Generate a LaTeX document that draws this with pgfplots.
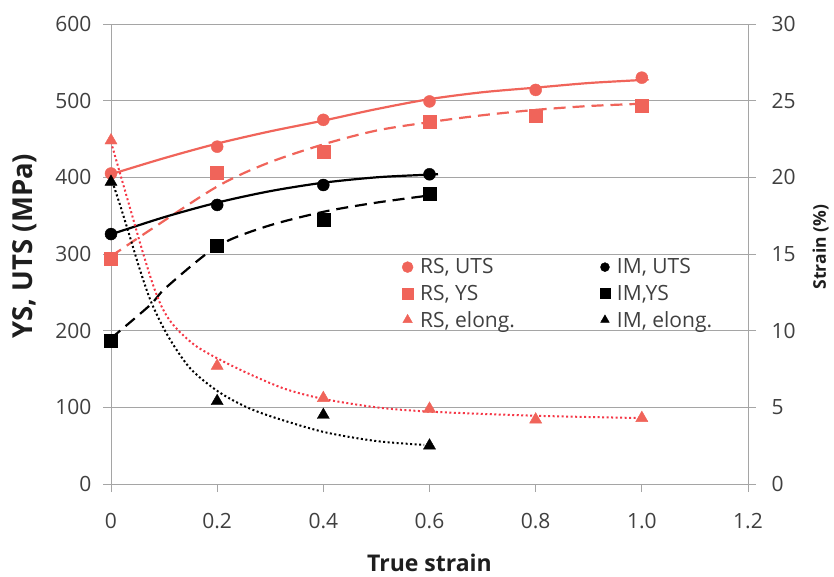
\documentclass[border=0pt]{standalone}
\usepackage{pgfplots}
\pgfplotsset{compat=1.18}
\usepackage{fontspec}
\setmainfont{Open Sans}
\definecolor{rsred}{RGB}{240,100,90}
\definecolor{rsdot}{RGB}{245,55,70}
\definecolor{gridc}{RGB}{165,165,165}
\definecolor{tickc}{RGB}{64,64,64}
\definecolor{labc}{RGB}{30,30,30}
\pgfplotsset{
  common/.style={
    at={(0,0)}, anchor=south west,
    scale only axis, width=637bp, height=460bp,
    xmin=0, xmax=1.2,
    axis line style={gridc, line width=0.8pt},
    tick style={gridc, line width=0.8pt},
    major tick length=8bp,
    tick align=outside,
    /pgf/number format/assume math mode=true,
    ticklabel style={font=\fontsize{21bp}{25bp}\selectfont, text=tickc},
    label style={font=\bfseries\fontsize{27.5bp}{30bp}\selectfont, text=labc},
  },
  trend/.style={line width=2.2bp, no markers, smooth},
}
\begin{document}
\begin{tikzpicture}
\useasboundingbox (-111bp,-93bp) rectangle (723bp,484bp);
\begin{axis}[common,
  ymin=0, ymax=600,
  axis x line*=bottom, axis y line*=left,
  xtick={0,0.2,0.4,0.6,0.8,1.0,1.2},
  xticklabels={0,0.2,0.4,0.6,0.8,1.0,1.2},
  ytick={0,100,200,300,400,500,600},
  xticklabel style={yshift=-18bp},
  yticklabel style={xshift=-8bp},
  ymajorgrids, grid style={gridc, line width=0.8pt},
  xlabel={True strain},
  ylabel={YS, UTS (MPa)},
  xlabel style={at={(axis description cs:0.5,-0.172)}, anchor=center, font=\bfseries\fontsize{23bp}{26bp}\selectfont},
  ylabel style={at={(axis description cs:-0.135,0.517)}, anchor=center},
]
% trend lines
\addplot[trend, rsred] coordinates {(0,404) (0.1,425) (0.2,444) (0.3,460) (0.4,474) (0.5,489) (0.6,502) (0.7,511) (0.8,517) (0.9,523) (1.0,527) (1.012,528)};
\addplot[trend, rsred, dash pattern=on 12bp off 7bp] coordinates {(0,297) (0.073,331) (0.2,388) (0.293,418) (0.4,443) (0.5,461) (0.6,472) (0.7,481) (0.8,488) (0.9,493) (1.0,496) (1.012,496.5)};
\addplot[trend, black] coordinates {(0,325.6) (0.1,348) (0.2,367) (0.3,382) (0.4,393) (0.5,400) (0.582,403) (0.616,404)};
\addplot[trend, black, dash pattern=on 12bp off 7bp] coordinates {(0,190) (0.073,233) (0.105,257) (0.2,310) (0.293,336) (0.4,355) (0.5,367) (0.607,377)};
% markers
\addplot[only marks, mark=*, rsred, mark size=6bp] coordinates {(0,405) (0.2,440) (0.4,475) (0.6,499) (0.8,514) (1.0,530)};
\addplot[only marks, mark=square*, rsred, mark size=6.5bp] coordinates {(0,294) (0.2,406) (0.4,434) (0.6,472) (0.8,480) (1.0,494)};
\addplot[only marks, mark=*, black, mark size=6bp] coordinates {(0,326) (0.2,364) (0.4,390) (0.6,404)};
\addplot[only marks, mark=square*, black, mark size=6.5bp] coordinates {(0,187) (0.2,311) (0.4,345) (0.6,379)};
\end{axis}
\begin{axis}[common,
  ymin=0, ymax=30,
  axis x line=none, axis y line*=right,
  ytick={0,5,10,15,20,25,30},
  yticklabel style={xshift=12bp},
  ylabel={Strain (\%)},
  ylabel style={at={(axis description cs:1.114,0.515)}, anchor=center, font=\bfseries\fontsize{17.5bp}{20bp}\selectfont},
  legend columns=2,
  legend cell align=left,
  legend style={at={(axis description cs:0.452,0.4987)}, anchor=north west, draw=none, fill=none,
    font=\fontsize{21bp}{24bp}\selectfont, text=tickc, row sep=5.5bp,
    /tikz/every odd column/.append style={column sep=5bp},
    /tikz/every even column/.append style={column sep=83bp}},
]
\addplot[trend, rsdot, line width=2bp, dash pattern=on 2bp off 2.5bp, forget plot] coordinates {(0,22.3) (0.02,19.9) (0.04,17.5) (0.06,15.1) (0.08,12.9) (0.095,11.6) (0.11,10.7) (0.13,9.9) (0.16,9.0) (0.2,8.2) (0.259,7.2) (0.328,6.2) (0.4,5.55) (0.5,5.0) (0.6,4.72) (0.8,4.45) (1.0,4.3)};
\addplot[trend, black, line width=2bp, dash pattern=on 2bp off 2.5bp, forget plot] coordinates {(0.0025,19.72) (0.017,18.2) (0.0358,16.1) (0.0546,13.96) (0.0766,11.79) (0.108,9.61) (0.149,7.55) (0.199,6.1) (0.25,5.1) (0.303,4.39) (0.4,3.4) (0.5,2.8) (0.59,2.55)};
\addplot[only marks, mark=triangle*, rsred, mark size=7bp, forget plot] coordinates {(0,22.4) (0.2,7.7) (0.4,5.6) (0.6,4.9) (0.8,4.2) (1.0,4.3)};
\addplot[only marks, mark=triangle*, black, mark size=7bp, forget plot] coordinates {(0,19.7) (0.2,5.4) (0.4,4.5) (0.6,2.5)};
\addlegendimage{only marks, mark=*, rsred, mark size=5.5bp}
\addlegendentry{RS, UTS}
\addlegendimage{only marks, mark=*, black, mark size=4.5bp}
\addlegendentry{IM, UTS}
\addlegendimage{only marks, mark=square*, rsred, mark size=5.5bp}
\addlegendentry{RS, YS}
\addlegendimage{only marks, mark=square*, black, mark size=5bp}
\addlegendentry{IM,YS}
\addlegendimage{only marks, mark=triangle*, rsred, mark size=5.5bp}
\addlegendentry{RS, elong.}
\addlegendimage{only marks, mark=triangle*, black, mark size=5bp}
\addlegendentry{IM, elong.}
\end{axis}
\end{tikzpicture}
\end{document}
